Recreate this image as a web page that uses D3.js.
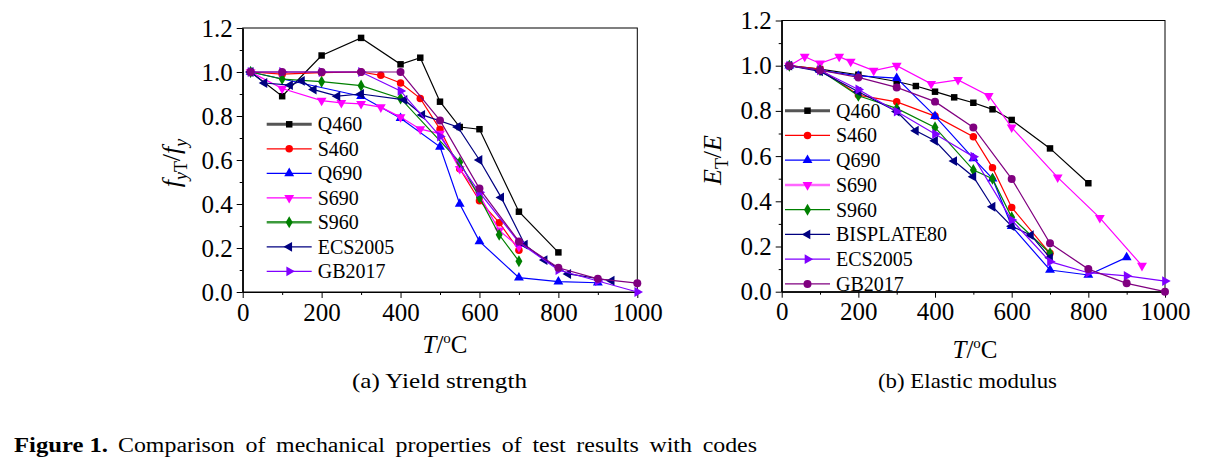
<!DOCTYPE html>
<html>
<head>
<meta charset="utf-8">
<script src="https://cdn.jsdelivr.net/npm/d3@7"></script>
<style>
body { margin: 0; background: #fff; }
svg text { font-family: "Liberation Serif", serif; fill: #000; }
</style>
</head>
<body>
<svg id="fig" width="1212" height="469" font-family="Liberation Serif"></svg>
<script>
// mechanical property reduction factors vs temperature

var xTicks = [0, 200, 400, 600, 800, 1000],
    xMinor = [100, 300, 500, 700, 900],
    yTicks = [0, 0.2, 0.4, 0.6, 0.8, 1.0, 1.2],
    yMinor = [0.1, 0.3, 0.5, 0.7, 0.9, 1.1];

// (a) yield strength  [T, fyT/fy]
var fyQ460 = [[20,1.00],[100,0.89],[200,1.075],[300,1.155],[400,1.035],[450,1.065],[500,0.865],[550,0.75],[600,0.74],[700,0.365],[800,0.18]];
var fyS460 = [[20,1.00],[100,0.99],[200,0.997],[300,1.00],[350,0.985],[400,0.95],[450,0.88],[500,0.74],[550,0.56],[600,0.415],[650,0.315],[700,0.19]];
var fyQ690 = [[20,1.00],[300,0.89],[400,0.79],[500,0.66],[550,0.40],[600,0.23],[700,0.065],[800,0.047],[900,0.042]];
var fyS690 = [[20,1.00],[100,0.925],[200,0.87],[250,0.86],[300,0.855],[350,0.84],[400,0.795],[450,0.74],[500,0.72],[550,0.56],[600,0.44],[650,0.28],[700,0.205]];
var fyS960 = [[20,1.00],[100,0.968],[200,0.956],[300,0.938],[400,0.88],[550,0.59],[600,0.43],[650,0.26],[700,0.14]];
var fyECS2005 = [[20,1.00],[55,0.95],[120,0.94],[150,0.96],[180,0.92],[240,0.89],[300,0.90],[410,0.873],[455,0.805],[545,0.75],[600,0.60],[655,0.43],[715,0.215],[765,0.145],[825,0.082],[935,0.051]];
var fyGB2017 = [[20,1.00],[100,1.00],[200,1.00],[300,1.00],[400,0.914],[500,0.707],[600,0.453],[700,0.226],[800,0.10],[900,0.05],[1000,0.0]];
var fyEC3 = [[20,1.00],[100,1.00],[200,1.00],[300,1.00],[400,1.00],[500,0.78],[600,0.47],[700,0.23],[800,0.11],[900,0.06],[1000,0.04]];

// (b) elastic modulus  [T, ET/E]
var eQ460 = [[20,1.00],[100,0.985],[200,0.96],[300,0.93],[350,0.91],[400,0.885],[450,0.86],[500,0.836],[550,0.807],[600,0.76],[700,0.634],[800,0.48]];
var eS460 = [[20,1.00],[100,0.985],[200,0.87],[300,0.84],[400,0.777],[500,0.686],[550,0.549],[600,0.373],[700,0.17]];
var eQ690 = [[20,1.00],[100,0.98],[200,0.955],[300,0.945],[400,0.777],[500,0.59],[550,0.50],[600,0.29],[700,0.096],[800,0.074],[900,0.152]];
var eS690 = [[20,1.00],[60,1.04],[100,1.01],[150,1.04],[180,1.018],[240,0.978],[300,1.00],[390,0.92],[460,0.937],[540,0.867],[600,0.727],[720,0.506],[830,0.327],[940,0.115]];
var eS960 = [[20,1.00],[100,0.98],[200,0.867],[300,0.811],[400,0.727],[500,0.538],[550,0.50],[600,0.329],[700,0.17]];
var eBISPLATE80 = [[20,1.00],[100,0.975],[200,0.885],[300,0.797],[350,0.712],[400,0.668],[450,0.578],[500,0.509],[550,0.376],[600,0.29],[650,0.25],[700,0.15]];
var eECS2005 = [[20,1.00],[100,0.98],[200,0.895],[300,0.797],[400,0.698],[500,0.597],[600,0.317],[700,0.133],[800,0.084],[900,0.07],[1000,0.047]];
var eGB2017 = [[20,1.00],[100,0.98],[200,0.948],[300,0.904],[400,0.841],[500,0.727],[600,0.499],[700,0.214],[800,0.10],[900,0.037],[1000,0.0]];

// marker styles
var sty = {
    Q460:  {color: "#000000", sym: d3.symbolSquare,   rot: 0,   size: 42},
    S460:  {color: "#ff0000", sym: d3.symbolCircle,   rot: 0,   size: 44},
    Q690:  {color: "#0000ff", sym: d3.symbolTriangle, rot: 0,   size: 42},
    S690:  {color: "#ff00ff", sym: d3.symbolTriangle, rot: 180, size: 42},
    S960:  {color: "#008000", sym: d3.symbolDiamond,  rot: 0,   size: 42},
    navy:  {color: "#000080", sym: d3.symbolTriangle, rot: -90, size: 42},
    violet:{color: "#8000ff", sym: d3.symbolTriangle, rot: 90,  size: 42},
    plum:  {color: "#800080", sym: d3.symbolCircle,   rot: 0,   size: 50}
};

var svg = d3.select("#fig");
var FONT = "Liberation Serif";

function fixAxis(a) {
    a.attr("font-family", FONT).attr("font-size", null);
    a.selectAll("text").style("font-family", FONT).style("font-size", "25px");
}

function drawPanel(p) {
    var x = d3.scaleLinear().domain([0, 1000]).range([p.left, p.right]),
        y = d3.scaleLinear().domain([0, 1.2]).range([p.bottom, p.top]);

    var g = svg.append("g");

    // frame
    g.append("rect")
        .attr("x", p.left).attr("y", p.top)
        .attr("width", p.right - p.left).attr("height", p.bottom - p.top)
        .attr("fill", "none").attr("stroke", "#000").attr("stroke-width", 1);

    g.append("g")
        .attr("transform", "translate(0," + p.bottom + ")")
        .call(d3.axisBottom(x).tickValues(xTicks).tickFormat(d3.format("d")).tickSize(6).tickPadding(5).tickSizeOuter(0))
        .call(fixAxis);
    g.append("g")
        .attr("transform", "translate(0," + p.bottom + ")")
        .call(d3.axisBottom(x).tickValues(xMinor).tickSize(3).tickFormat("").tickSizeOuter(0));

    g.append("g")
        .attr("transform", "translate(" + p.left + ",0)")
        .call(d3.axisLeft(y).tickValues(yTicks).tickFormat(d3.format(".1f")).tickSize(6).tickPadding(4).tickSizeOuter(0))
        .call(fixAxis);
    g.append("g")
        .attr("transform", "translate(" + p.left + ",0)")
        .call(d3.axisLeft(y).tickValues(yMinor).tickSize(3).tickFormat("").tickSizeOuter(0));

    g.selectAll(".domain").attr("stroke", "#000");
    g.selectAll(".tick line").attr("stroke", "#000");

    var line = d3.line()
        .x(function(d) { return x(d[0]); })
        .y(function(d) { return y(d[1]); });

    p.series.forEach(function(s) {
        var st = sty[s.style];
        var sg = g.append("g");
        sg.append("path")
            .attr("d", line(s.data))
            .attr("fill", "none")
            .attr("stroke", st.color)
            .attr("stroke-width", 1.2);
        sg.selectAll("path.mk")
            .data(s.data)
            .enter().append("path")
            .attr("class", "mk")
            .attr("d", d3.symbol().type(st.sym).size(st.size))
            .attr("transform", function(d) { return "translate(" + x(d[0]) + "," + y(d[1]) + ") rotate(" + st.rot + ")"; })
            .attr("fill", st.color);
    });

    // legend
    var lg = g.append("g");
    p.legend.forEach(function(e, i) {
        var st = sty[e.style],
            ly = p.legY + i * p.legStep;
        lg.append("line")
            .attr("x1", p.legX).attr("x2", p.legX + 45)
            .attr("y1", ly).attr("y2", ly)
            .attr("stroke", e.lineColor || st.color)
            .attr("stroke-width", e.lineWidth || 1.2);
        lg.append("path")
            .attr("d", d3.symbol().type(st.sym).size(st.size))
            .attr("transform", "translate(" + (p.legX + 22.5) + "," + ly + ") rotate(" + st.rot + ")")
            .attr("fill", st.color);
        lg.append("text")
            .attr("x", p.legX + 51).attr("y", ly + 7)
            .style("font-size", "20px")
            .text(e.name);
    });

    // x title  T/°C
    var xt = g.append("text")
        .attr("x", p.xTitleX).attr("y", p.xTitleY)
        .attr("text-anchor", "middle")
        .style("font-size", "25px");
    xt.append("tspan").style("font-style", "italic").text("T");
    xt.append("tspan").text("/");
    xt.append("tspan").attr("dy", -10).style("font-size", "15px").text("o");
    xt.append("tspan").attr("dy", 10).text("C");

    // sub caption
    g.append("text")
        .attr("x", p.subX).attr("y", 388)
        .attr("textLength", p.subW).attr("lengthAdjust", "spacingAndGlyphs")
        .style("font-size", "21px")
        .text(p.sub);

    // y title
    var yt = g.append("text")
        .attr("transform", "translate(" + p.yTitleX + "," + p.yTitleY + ") rotate(-90)")
        .attr("text-anchor", "middle")
        .style("font-size", "26px");
    p.yTitle(yt);
}

drawPanel({
    left: 242.7, right: 637.3, top: 28, bottom: 292,
    series: [
        {style: "Q460", data: fyQ460},
        {style: "S460", data: fyS460},
        {style: "Q690", data: fyQ690},
        {style: "S690", data: fyS690},
        {style: "S960", data: fyS960},
        {style: "navy", data: fyECS2005},
        {style: "violet", data: fyGB2017},
        {style: "plum", data: fyEC3}
    ],
    legend: [
        {name: "Q460", style: "Q460", lineColor: "#555", lineWidth: 3},
        {name: "S460", style: "S460"},
        {name: "Q690", style: "Q690"},
        {name: "S690", style: "S690"},
        {name: "S960", style: "S960", lineColor: "#3c9a3c", lineWidth: 2.5},
        {name: "ECS2005", style: "navy"},
        {name: "GB2017", style: "violet"}
    ],
    legX: 266.7, legY: 124.3, legStep: 24.5,
    xTitleX: 445, xTitleY: 353,
    sub: "(a) Yield strength", subX: 352, subW: 175,
    yTitleX: 180, yTitleY: 163,
    yTitle: function(t) {
        t.append("tspan").style("font-style", "italic").text("f");
        t.append("tspan").attr("dy", 7).style("font-size", "18px").style("font-style", "italic").text("y");
        t.append("tspan").style("font-size", "18px").text("T");
        t.append("tspan").attr("dy", -7).text("/");
        t.append("tspan").style("font-style", "italic").text("f");
        t.append("tspan").attr("dy", 7).style("font-size", "18px").style("font-style", "italic").text("y");
    }
});

drawPanel({
    left: 781.7, right: 1165, top: 20.5, bottom: 291.7,
    series: [
        {style: "Q460", data: eQ460},
        {style: "S460", data: eS460},
        {style: "Q690", data: eQ690},
        {style: "S690", data: eS690},
        {style: "S960", data: eS960},
        {style: "navy", data: eBISPLATE80},
        {style: "violet", data: eECS2005},
        {style: "plum", data: eGB2017}
    ],
    legend: [
        {name: "Q460", style: "Q460", lineColor: "#555", lineWidth: 3},
        {name: "S460", style: "S460"},
        {name: "Q690", style: "Q690"},
        {name: "S690", style: "S690", lineColor: "#ff66ff", lineWidth: 2.5},
        {name: "S960", style: "S960"},
        {name: "BISPLATE80", style: "navy"},
        {name: "ECS2005", style: "violet"},
        {name: "GB2017", style: "plum"}
    ],
    legX: 785, legY: 110.7, legStep: 24.75,
    xTitleX: 975, xTitleY: 358,
    sub: "(b) Elastic modulus", subX: 878, subW: 179,
    yTitleX: 721, yTitleY: 160,
    yTitle: function(t) {
        t.append("tspan").style("font-style", "italic").text("E");
        t.append("tspan").attr("dy", 7).style("font-size", "18px").text("T");
        t.append("tspan").attr("dy", -7).text("/");
        t.append("tspan").style("font-style", "italic").text("E");
    }
});

// figure caption: bold label, then the sentence spread to the printed width
svg.append("text")
    .attr("x", 14).attr("y", 452)
    .attr("textLength", 94).attr("lengthAdjust", "spacingAndGlyphs")
    .style("font-size", "21px").style("font-weight", "bold")
    .text("Figure 1.");
svg.append("text")
    .attr("x", 118).attr("y", 452)
    .attr("word-spacing", 4)
    .attr("textLength", 639).attr("lengthAdjust", "spacingAndGlyphs")
    .style("font-size", "20px")
    .text("Comparison of mechanical properties of test results with codes");
</script>
</body>
</html>
